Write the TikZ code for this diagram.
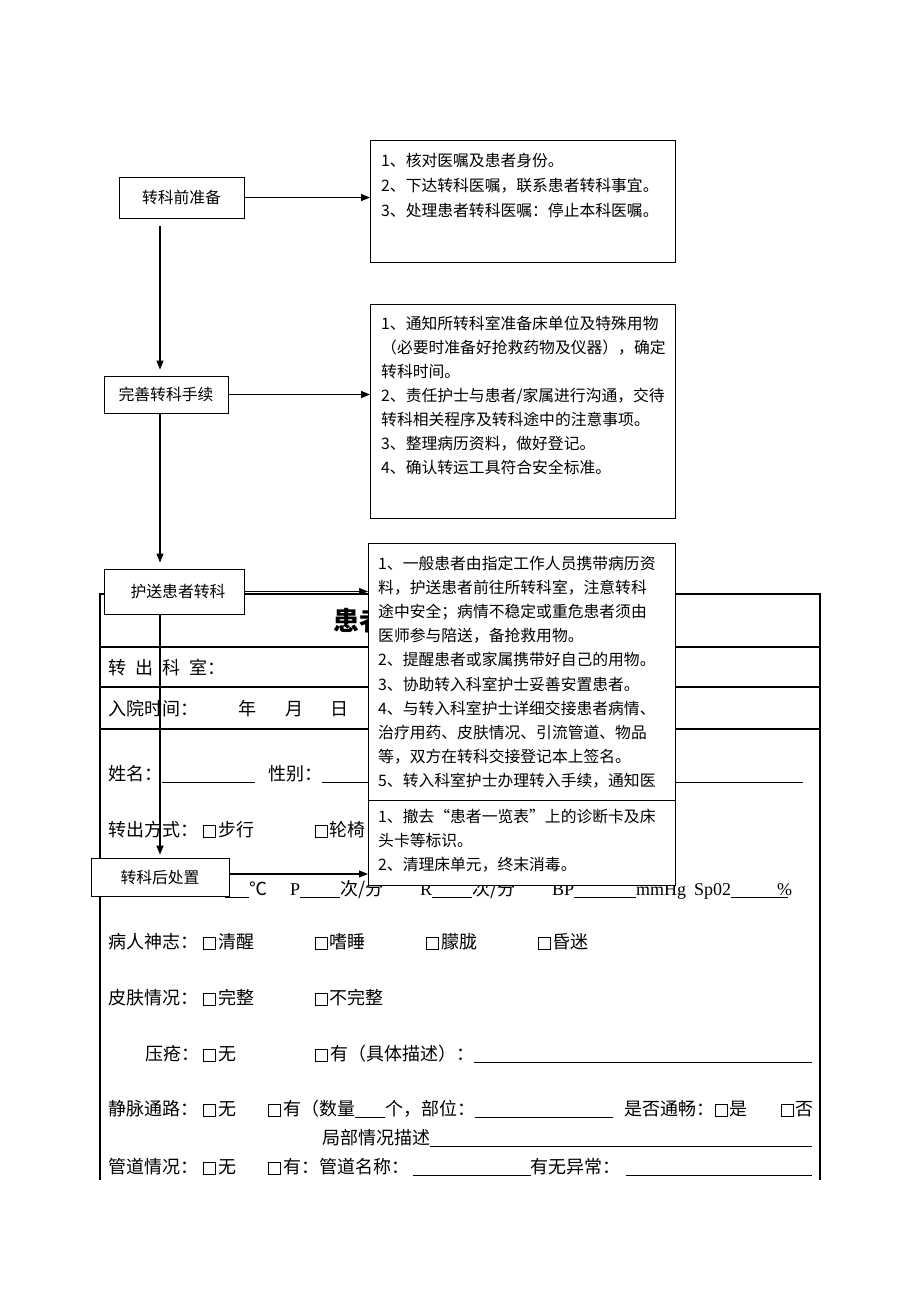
\documentclass[tikz,border=0pt]{standalone}
\usepackage{fontspec}
\setmainfont{Noto Sans CJK SC}
\newfontfamily\lat{Liberation Serif}
\usetikzlibrary{arrows.meta}
\newcommand\cbx{\raisebox{-0.5pt}{\setlength{\fboxsep}{0pt}\setlength{\fboxrule}{0.9pt}\fbox{\rule{0pt}{11pt}\rule{11pt}{0pt}}}\hspace{2pt}}
\newcommand\uln[1]{\rule[-3pt]{#1}{0.8pt}}
\begin{document}
\begin{tikzpicture}[x=1pt,y=-1pt,
  lbox/.style={draw, line width=0.9pt, fill=white, inner sep=0pt, font=\fontsize{15.8}{18}\selectfont},
  rbox/.style={draw, line width=0.9pt, fill=white, inner sep=0pt, anchor=north west},
  rt/.style={anchor=base west, inner sep=0pt, font=\fontsize{15.8}{18}\selectfont},
  ft/.style={anchor=base west, inner sep=0pt, font=\fontsize{18}{20}\selectfont},
  tline/.style={line width=1.4pt},
  arr/.style={-{Triangle[length=9pt,width=7pt]}, line width=1.2pt}]
\fill[white] (0,0) rectangle (920,1302);
\useasboundingbox (0,0) rectangle (920,1302);
\coordinate (spine) at (160,0);

% ---------- form (table) ----------
\draw[tline] (100,594) -- (820,594);
\draw[tline] (100,647) -- (820,647);
\draw[tline] (100,687) -- (820,687);
\draw[tline] (100,729) -- (820,729);
\draw[tline] (100,593.3) -- (100,1180);
\draw[tline] (820,593.3) -- (820,1180);

\node[anchor=base west, inner sep=0pt, font=\fontsize{26}{28}\selectfont\bfseries] (title) at (333,630) {患者};
\node[ft] (f1) at (108,674) {转\hspace{9pt}出\hspace{9pt}科\hspace{9pt}室：};
\node[ft] (f2) at (108,715) {\makebox[130pt][l]{入院时间：}年\hspace{29pt}月\hspace{27pt}日};
\node[ft] (f3) at (108,780) {姓名：\uln{93pt}\hspace{13pt}性别：\uln{481pt}};
\node[ft] (f4) at (108,836) {\makebox[95pt][l]{转出方式：}\makebox[112pt][l]{\cbx 步行}\cbx 轮椅};
\node[ft] (f5) at (214,895) {\makebox[76pt][l]{{\lat T}\uln{24pt}℃}\makebox[130pt][l]{{\lat P}\uln{40pt}次/分}\makebox[132pt][l]{{\lat R}\uln{40pt}次/分}\makebox[142pt][l]{{\lat BP}\uln{62pt}{\lat mmHg}}{\lat Sp02}\uln{46pt}\rlap{\uln{11pt}}{\lat\%}};
\node[ft] (f6) at (108,948) {\makebox[95pt][l]{病人神志：}\makebox[112pt][l]{\cbx 清醒}\makebox[111pt][l]{\cbx 嗜睡}\makebox[112pt][l]{\cbx 朦胧}\cbx 昏迷};
\node[ft] (f7) at (108,1004) {\makebox[95pt][l]{皮肤情况：}\makebox[112pt][l]{\cbx 完整}\cbx 不完整};
\node[ft] (f8) at (145,1060) {\makebox[58pt][l]{压疮：}\makebox[112pt][l]{\cbx 无}\cbx 有（具体描述）：\uln{338pt}};
\node[ft] (f9) at (108,1115) {\makebox[95pt][l]{静脉通路：}\makebox[65pt][l]{\cbx 无}\cbx 有（数量\uln{30pt}个，部位：\uln{138pt}\hspace{12pt}是否通畅：\makebox[66pt][l]{\cbx 是}\cbx 否};
\node[ft] (f10) at (322,1144) {局部情况描述\uln{382pt}};
\node[ft] (f11) at (108,1173) {\makebox[95pt][l]{管道情况：}\makebox[65pt][l]{\cbx 无}\cbx 有：管道名称：\hspace{4pt}\uln{118pt}有无异常：\hspace{5pt}\uln{186pt}};

% ---------- right boxes ----------
\node[rbox, minimum width=305pt, minimum height=122pt] (R1) at (370,140) {};
\foreach \s [count=\i from 0] in {1、核对医嘱及患者身份。, 2、下达转科医嘱，联系患者转科事宜。, 3、处理患者转科医嘱：停止本科医嘱。}
  \node[rt] (ra\i) at (381,166+25*\i) {\s};

\node[rbox, minimum width=305pt, minimum height=214pt] (R2) at (370,304) {};
\foreach \s [count=\i from 0] in {1、通知所转科室准备床单位及特殊用物, （必要时准备好抢救药物及仪器），确定, 转科时间。, 2、责任护士与患者/家属进行沟通，交待, 转科相关程序及转科途中的注意事项。, 3、整理病历资料，做好登记。, 4、确认转运工具符合安全标准。}
  \node[rt] (rb\i) at (381,329+24*\i) {\s};

\node[rbox, minimum width=307pt, minimum height=257pt] (R3) at (368,543) {};
\foreach \s [count=\i from 0] in {1、一般患者由指定工作人员携带病历资, 料，护送患者前往所转科室，注意转科, 途中安全；病情不稳定或重危患者须由, 医师参与陪送，备抢救用物。, 2、提醒患者或家属携带好自己的用物。, 3、协助转入科室护士妥善安置患者。, 4、与转入科室护士详细交接患者病情、, 治疗用药、皮肤情况、引流管道、物品, 等，双方在转科交接登记本上签名。, 5、转入科室护士办理转入手续，通知医}
  \node[rt] (rc\i) at (378,569+24.2*\i) {\s};

\node[rbox, minimum width=307pt, minimum height=85pt] (R4) at (368,800) {};
\foreach \s [count=\i from 0] in {1、撤去“患者一览表”上的诊断卡及床, 头卡等标识。, 2、清理床单元，终末消毒。}
  \node[rt] (rd\i) at (378,822+24*\i) {\s};

% ---------- left boxes ----------
\node[lbox, minimum width=125pt, minimum height=41pt] (A) at (181.5,197.5) {转科前准备};
\node[lbox, minimum width=124pt, minimum height=37pt] (B) at (166,394.5) {完善转科手续};
\node[lbox, minimum width=140pt, minimum height=45pt] (C) at (174,591.5) {\hspace{8pt}护送患者转科};
\node[lbox, minimum width=138pt, minimum height=38pt] (D) at (160,877) {转科后处置};

% ---------- connectors ----------
\draw[arr, shorten <=8pt, shorten >=6pt] (A.south -| spine) -- (B.north -| spine);
\draw[arr, shorten >=6pt] (B.south -| spine) -- (C.north -| spine);
\draw[arr, shorten >=3pt] (C.south -| spine) -- (D.north -| spine);
\draw[arr] (A.east) -- (A.east -| R1.west);
\draw[arr] (B.east) -- (B.east -| R2.west);
\draw[arr] (C.east) -- (C.east -| R3.west);
\draw[arr] ([yshift=3pt]D.east) -- ([yshift=3pt]D.east -| R4.west);
\end{tikzpicture}
\end{document}
